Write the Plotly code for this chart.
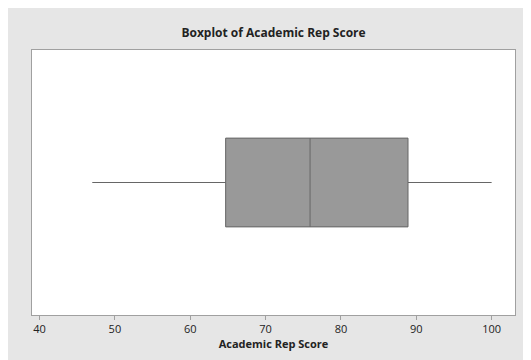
import plotly.graph_objects as go

# Data
variable = "Academic Rep Score"
lower_whisker = [47.0]
q1_vals = [64.7]
median_vals = [75.9]
q3_vals = [88.9]
upper_whisker = [100.0]
tick_vals = [40, 50, 60, 70, 80, 90, 100]
tick_text = ["40", "50", "60", "70", "80", "90", "100"]

# The page adds an 8px body margin, so the figure is sized to the remaining view
W, H = 523, 352
ml, mr, mt, mb = 24, 16, 42, 45

fig = go.Figure()
fig.add_trace(go.Box(
    y=[0], q1=q1_vals, median=median_vals, q3=q3_vals,
    lowerfence=lower_whisker, upperfence=upper_whisker,
    orientation="h", width=0.335, whiskerwidth=0,
    boxpoints=False, fillcolor="#999999",
    line=dict(color="#666666", width=1),
    name=variable, showlegend=False, hoverinfo="skip",
))

fig.update_layout(
    width=W, height=H,
    margin=dict(l=ml, r=mr, t=mt, b=mb),
    paper_bgcolor="#e6e6e6", plot_bgcolor="white",
    font=dict(family="Open Sans", color="#222222"),
    title=dict(text="<b>Boxplot of Academic Rep Score</b>", x=0.5, xref="paper",
               xanchor="center", y=1 - 25 / H, yanchor="middle",
               font=dict(size=12, color="#222222")),
    xaxis=dict(range=[39.0, 103.1], tickvals=tick_vals, ticktext=tick_text,
               ticks="outside", ticklen=4, tickcolor="#a0a0a0",
               showgrid=False, zeroline=False,
               showline=True, linecolor="#a0a0a0", linewidth=1, mirror=True,
               tickfont=dict(size=11, color="#222222"),
               title=dict(text="<b>Academic Rep Score</b>", standoff=4,
                          font=dict(size=11, color="#222222"))),
    yaxis=dict(range=[-0.5, 0.5], showticklabels=False, ticks="",
               showgrid=False, zeroline=False,
               showline=True, linecolor="#a0a0a0", linewidth=1, mirror=True),
)

fig.write_html("out.html")
